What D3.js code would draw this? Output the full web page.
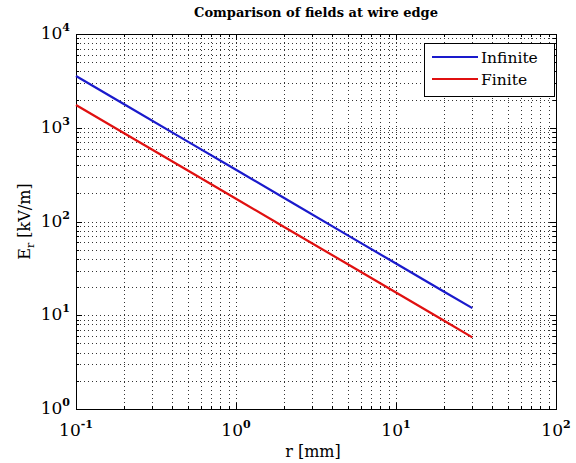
<!DOCTYPE html>
<html><head><meta charset="utf-8">
<script src="https://cdn.jsdelivr.net/npm/d3@7"></script>
<style>body{margin:0;background:#fff}svg{display:block}text{font-family:"DejaVu Serif",serif;fill:#000}</style>
</head><body><div id="c"></div>
<script>
const rValues = [0.1, 0.2, 0.5, 1, 2, 5, 10, 20, 30];
const infiniteValues = [3560, 1780, 712, 356, 178, 71.2, 35.6, 17.8, 11.9];
const finiteValues = [1750, 875, 350, 175, 87.5, 35, 17.5, 8.75, 5.8];
const seriesNames = ["Infinite", "Finite"];
const xTickExps = [-1, 0, 1, 2];
const yTickExps = [0, 1, 2, 3, 4];

const W = 576, H = 463;
const m = {l: 76, t: 34, r: 556, b: 409};
const svg = d3.select("#c").append("svg").attr("width", W).attr("height", H);
const x = d3.scaleLog().domain([0.1, 100]).range([m.l, m.r]);
const y = d3.scaleLog().domain([1, 10000]).range([m.b, m.t]);

const xAll = [], yAll = [];
for (let e = -1; e < 2; e++) for (let k = 1; k <= 9; k++) xAll.push(k * Math.pow(10, e));
xAll.push(100);
for (let e = 0; e < 4; e++) for (let k = 1; k <= 9; k++) yAll.push(k * Math.pow(10, e));
yAll.push(10000);

const g = svg.append("g");
g.selectAll(".gx").data(xAll.filter(v => v > 0.1 && v < 100)).enter().append("line")
  .attr("x1", d => Math.round(x(d)) + 0.5).attr("x2", d => Math.round(x(d)) + 0.5)
  .attr("y1", m.t).attr("y2", m.b)
  .attr("stroke", "#333").attr("stroke-width", 1).attr("stroke-dasharray", "1,3");
g.selectAll(".gy").data(yAll.filter(v => v > 1 && v < 10000)).enter().append("line")
  .attr("y1", d => Math.round(y(d)) + 0.5).attr("y2", d => Math.round(y(d)) + 0.5)
  .attr("x1", m.l).attr("x2", m.r)
  .attr("stroke", "#333").attr("stroke-width", 1).attr("stroke-dasharray", "1,3");

function ticks(vals, isX, len) {
  vals.forEach(v => {
    if (isX) {
      const px = Math.round(x(v)) + 0.5;
      g.append("line").attr("x1", px).attr("x2", px).attr("y1", m.b).attr("y2", m.b - len).attr("stroke", "#000");
      g.append("line").attr("x1", px).attr("x2", px).attr("y1", m.t).attr("y2", m.t + len).attr("stroke", "#000");
    } else {
      const py = Math.round(y(v)) + 0.5;
      g.append("line").attr("y1", py).attr("y2", py).attr("x1", m.l).attr("x2", m.l + len).attr("stroke", "#000");
      g.append("line").attr("y1", py).attr("y2", py).attr("x1", m.r).attr("x2", m.r - len).attr("stroke", "#000");
    }
  });
}
ticks(xAll, true, 3);
ticks(xTickExps.map(e => Math.pow(10, e)), true, 6);
ticks(yAll, false, 3);
ticks(yTickExps.map(e => Math.pow(10, e)), false, 6);

g.append("rect").attr("x", m.l + 0.5).attr("y", m.t + 0.5).attr("width", m.r - m.l).attr("height", m.b - m.t)
  .attr("fill", "none").attr("stroke", "#000").attr("stroke-width", 1);

const line = d3.line().x((d, i) => x(rValues[i])).y(d => y(d));
const colors = ["#1a1acc", "#e01010"];
[infiniteValues, finiteValues].forEach((s, i) => {
  g.append("path").datum(s).attr("d", line).attr("fill", "none")
    .attr("stroke", colors[i]).attr("stroke-width", 2.2);
});

xTickExps.forEach(e => {
  const t = svg.append("text").attr("x", x(Math.pow(10, e))).attr("y", 436)
    .attr("text-anchor", "middle").attr("font-size", 17);
  t.append("tspan").text("10");
  t.append("tspan").attr("dy", -8).attr("font-size", 11).attr("font-weight", "bold").text(String(e));
});
yTickExps.forEach(e => {
  const t = svg.append("text").attr("x", m.l - 6).attr("y", y(Math.pow(10, e)) + 5)
    .attr("text-anchor", "end").attr("font-size", 17);
  t.append("tspan").text("10");
  t.append("tspan").attr("dy", -8).attr("font-size", 11).attr("font-weight", "bold").text(String(e));
});

svg.append("text").attr("x", (m.l + m.r) / 2).attr("y", 17).attr("text-anchor", "middle")
  .attr("font-size", 13).attr("font-weight", "bold").text("Comparison of fields at wire edge");
svg.append("text").attr("x", (m.l + m.r) / 2 - 3).attr("y", 457).attr("text-anchor", "middle")
  .attr("font-size", 16).text("r [mm]");
const yl = svg.append("text").attr("transform", "translate(30," + ((m.t + m.b) / 2) + ") rotate(-90)")
  .attr("text-anchor", "middle").attr("font-size", 16);
yl.append("tspan").text("E");
yl.append("tspan").attr("dy", 4).attr("font-size", 11).text("r");
yl.append("tspan").attr("dy", -4).text(" [kV/m]");

const lg = svg.append("g");
lg.append("rect").attr("x", 424.5).attr("y", 43.5).attr("width", 130).attr("height", 53)
  .attr("fill", "#fff").attr("stroke", "#000");
seriesNames.forEach((n, i) => {
  const ly = 57 + i * 22;
  lg.append("line").attr("x1", 432).attr("x2", 478).attr("y1", ly).attr("y2", ly)
    .attr("stroke", colors[i]).attr("stroke-width", 2.2);
  lg.append("text").attr("x", 481).attr("y", ly + 6).attr("font-size", 15.5)
    .attr("font-family", "DejaVu Serif").text(n);
});
</script></body></html>
